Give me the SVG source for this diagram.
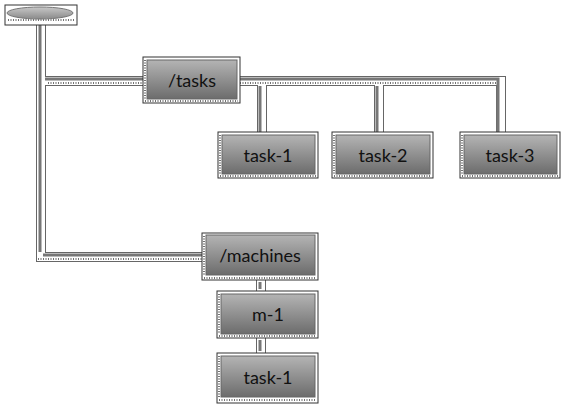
<svg xmlns="http://www.w3.org/2000/svg" width="564" height="407" viewBox="0 0 564 407">
<defs>
<linearGradient id="g" x1="0" y1="0" x2="0" y2="1">
<stop offset="0" stop-color="#b4b4b4"/>
<stop offset="1" stop-color="#6c6c6c"/>
</linearGradient>
<linearGradient id="ge" x1="0" y1="0" x2="0" y2="1">
<stop offset="0" stop-color="#c8c8c8"/>
<stop offset="1" stop-color="#8a8a8a"/>
</linearGradient>
</defs>
<style>
.frame{fill:#fff;stroke:#333;stroke-width:1}
.dots{fill:none;stroke:#444;stroke-width:1.5;stroke-dasharray:1 1.5}
.box{fill:url(#g);stroke:#666;stroke-width:1}
.lbl{font-family:Lato,"Open Sans","Liberation Sans",sans-serif;font-size:18px;fill:#111;text-anchor:middle;dominant-baseline:central}
.c1{fill:none;stroke:#666;stroke-width:10}
.c2{fill:none;stroke:#fff;stroke-width:8}
.c3{fill:none;stroke:#777;stroke-width:3}
.c4{fill:none;stroke:#444;stroke-width:1.5;stroke-dasharray:1 1.5}
</style>
<g id="connectors">
<path class="c1" d="M41 20V257H212M41 81H150M236 81H501V140M262 81V140M379 81V140M261 280V291M261 338V353"/>
<path class="c2" d="M41 20V257H212M41 81H150M236 81H501V140M262 81V140M379 81V140M261 280V291M261 338V353"/>
<path class="c3" d="M40 24V252M40 88V252M45 79H148M240 79H498V138M260 86V138M377 86V138M260 282V289M260 340V351M43 255H210"/>
<path class="c4" d="M38 259H210M48 83H148M240 83H496"/>
</g>
<g id="root">
<rect class="frame" x="5" y="5" width="72" height="20"/>
<path class="dots" d="M8 20H74"/>
<ellipse cx="40" cy="13" rx="33" ry="6" fill="url(#ge)" stroke="#777"/>
</g>
<g id="tasks">
<rect class="frame" x="143" y="57" width="97" height="46"/>
<path class="dots" d="M145 101H238M145 60V100"/>
<rect class="box" x="147" y="60" width="90" height="39"/>
<text class="lbl" x="192" y="80">/tasks</text>
</g>
<g id="task1a">
<rect class="frame" x="218" y="132" width="100" height="46"/>
<path class="dots" d="M220 176H316M220 135V175"/>
<rect class="box" x="222" y="135" width="93" height="39"/>
<text class="lbl" x="268" y="155">task-1</text>
</g>
<g id="task2">
<rect class="frame" x="332" y="132" width="101" height="46"/>
<path class="dots" d="M334 176H431M334 135V175"/>
<rect class="box" x="336" y="135" width="94" height="39"/>
<text class="lbl" x="383" y="155">task-2</text>
</g>
<g id="task3">
<rect class="frame" x="460" y="132" width="100" height="46"/>
<path class="dots" d="M462 176H558M462 135V175"/>
<rect class="box" x="464" y="135" width="93" height="39"/>
<text class="lbl" x="510" y="155">task-3</text>
</g>
<g id="machines">
<rect class="frame" x="202" y="233" width="116" height="47"/>
<path class="dots" d="M204 278H316M204 236V276"/>
<rect class="box" x="206" y="235" width="109" height="40"/>
<text class="lbl" x="260" y="255">/machines</text>
</g>
<g id="m1">
<rect class="frame" x="217" y="291" width="101" height="47"/>
<path class="dots" d="M219 336H316M219 294V334"/>
<rect class="box" x="221" y="294" width="94" height="40"/>
<text class="lbl" x="268" y="314">m-1</text>
</g>
<g id="task1b">
<rect class="frame" x="217" y="353" width="101" height="50"/>
<path class="dots" d="M219 400H316M219 356V398"/>
<rect class="box" x="221" y="356" width="94" height="41"/>
<text class="lbl" x="268" y="377">task-1</text>
</g>
</svg>
